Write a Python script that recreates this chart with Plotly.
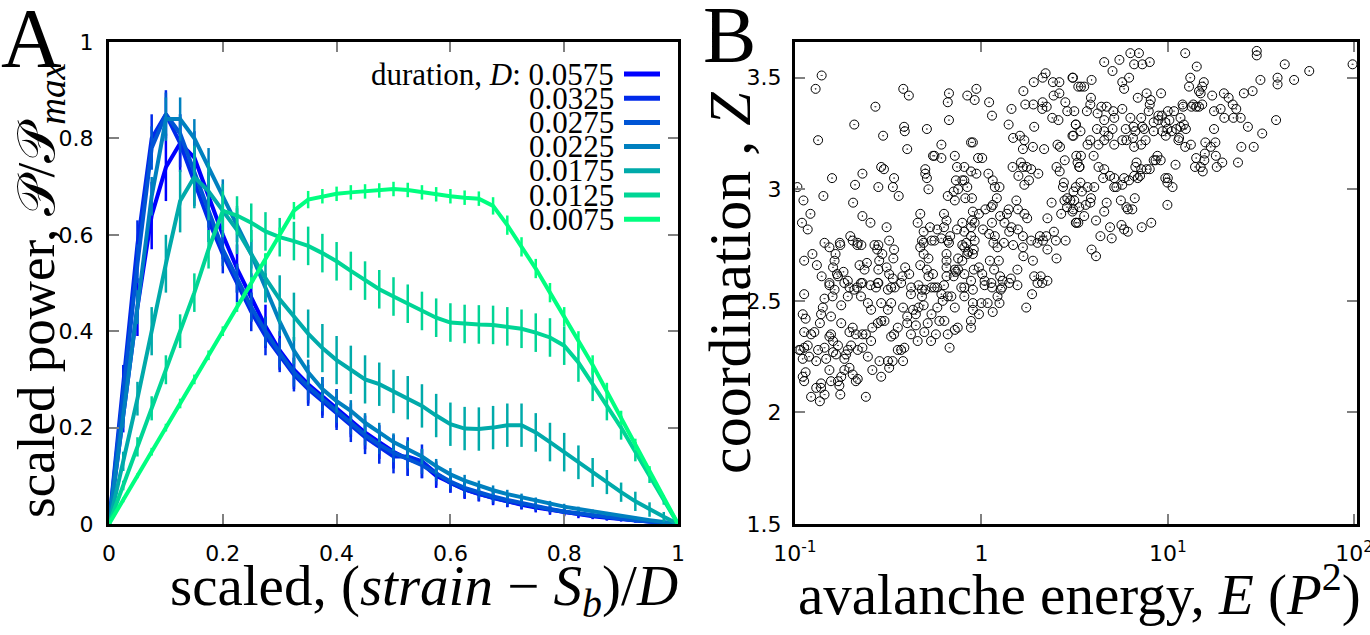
import plotly.graph_objects as go

# ---------------- Panel A data ----------------
x_scaled = [0, 0.025, 0.05, 0.075, 0.1, 0.125, 0.15, 0.175, 0.2, 0.225, 0.25, 0.275, 0.3, 0.325,
            0.35, 0.375, 0.4, 0.425, 0.45, 0.475, 0.5, 0.525, 0.55, 0.575, 0.6, 0.625, 0.65,
            0.675, 0.7, 0.725, 0.75, 0.775, 0.8, 0.825, 0.85, 0.875, 0.9, 0.925, 0.95, 0.975, 1]

durations = ["0.0575", "0.0325", "0.0275", "0.0225", "0.0175", "0.0125", "0.0075"]
colors = ["rgb(0,0,255)", "rgb(0,42,234)", "rgb(0,85,213)", "rgb(0,128,191)",
          "rgb(0,170,170)", "rgb(0,213,149)", "rgb(0,255,128)"]

p_0575 = [0, 0.22, 0.45, 0.64, 0.74, 0.79, 0.76, 0.68, 0.6, 0.53, 0.47, 0.41, 0.36, 0.32, 0.29, 0.265,
          0.24, 0.215, 0.19, 0.17, 0.15, 0.135, 0.125, 0.1, 0.085, 0.072, 0.062, 0.054, 0.047, 0.04,
          0.034, 0.029, 0.024, 0.02, 0.016, 0.013, 0.01, 0.007, 0.005, 0.002, 0]
p_0325 = [0, 0.3, 0.58, 0.8, 0.85, 0.79, 0.71, 0.63, 0.56, 0.5, 0.44, 0.39, 0.35, 0.31, 0.28, 0.255,
          0.23, 0.205, 0.18, 0.16, 0.14, 0.14, 0.13, 0.105, 0.085, 0.072, 0.062, 0.054, 0.047, 0.041,
          0.035, 0.03, 0.025, 0.021, 0.017, 0.013, 0.01, 0.007, 0.005, 0.002, 0]
p_0275 = [0, 0.27, 0.54, 0.78, 0.85, 0.81, 0.73, 0.65, 0.57, 0.51, 0.45, 0.4, 0.355, 0.315, 0.285,
          0.26, 0.235, 0.21, 0.185, 0.165, 0.148, 0.135, 0.122, 0.105, 0.088, 0.075, 0.065, 0.057,
          0.05, 0.043, 0.037, 0.031, 0.026, 0.022, 0.018, 0.014, 0.011, 0.008, 0.005, 0.003, 0]
p_0225 = [0, 0.22, 0.45, 0.68, 0.84, 0.84, 0.8, 0.74, 0.68, 0.62, 0.56, 0.49, 0.42, 0.36, 0.315,
          0.28, 0.255, 0.235, 0.21, 0.19, 0.17, 0.155, 0.14, 0.12, 0.103, 0.09, 0.079, 0.07, 0.062,
          0.055, 0.048, 0.042, 0.036, 0.031, 0.026, 0.021, 0.016, 0.012, 0.008, 0.004, 0]
p_0175 = [0, 0.13, 0.26, 0.4, 0.54, 0.67, 0.72, 0.69, 0.65, 0.61, 0.56, 0.51, 0.466, 0.43, 0.395,
          0.365, 0.34, 0.32, 0.3, 0.29, 0.275, 0.262, 0.245, 0.225, 0.207, 0.198, 0.197, 0.2, 0.205,
          0.205, 0.19, 0.17, 0.149, 0.128, 0.107, 0.087, 0.066, 0.047, 0.03, 0.015, 0]
p_0125 = [0, 0.08, 0.16, 0.24, 0.32, 0.4, 0.48, 0.57, 0.65, 0.64, 0.625, 0.607, 0.595, 0.587, 0.577,
          0.562, 0.545, 0.525, 0.505, 0.487, 0.472, 0.457, 0.442, 0.428, 0.418, 0.415, 0.414, 0.413,
          0.41, 0.405, 0.397, 0.387, 0.37, 0.335, 0.29, 0.245, 0.2, 0.15, 0.1, 0.05, 0]
p_0075 = [0, 0.05, 0.1, 0.15, 0.2, 0.25, 0.3, 0.35, 0.4, 0.45, 0.5, 0.55, 0.6, 0.65, 0.673, 0.68,
          0.685, 0.688, 0.69, 0.692, 0.695, 0.693, 0.688, 0.684, 0.68, 0.677, 0.675, 0.66, 0.62,
          0.575, 0.53, 0.48, 0.43, 0.38, 0.33, 0.275, 0.22, 0.165, 0.11, 0.055, 0]

e_0575 = [0, 0.03, 0.06, 0.07, 0.07, 0.06, 0.055, 0.05, 0.05, 0.05, 0.05, 0.045, 0.04, 0.04, 0.04,
          0.04, 0.04, 0.035, 0.035, 0.035, 0.035, 0.035, 0.03, 0.025, 0.02, 0.02, 0.015, 0.015, 0.012,
          0.01, 0.01, 0.01, 0.008, 0.008, 0.006, 0.006, 0.005, 0.004, 0.003, 0.002, 0]
e_0325 = [0, 0.03, 0.05, 0.05, 0.05, 0.05, 0.05, 0.045, 0.04, 0.04, 0.04, 0.04, 0.035, 0.035, 0.035,
          0.035, 0.035, 0.035, 0.035, 0.035, 0.035, 0.04, 0.035, 0.025, 0.02, 0.018, 0.015, 0.013,
          0.012, 0.01, 0.009, 0.008, 0.007, 0.006, 0.005, 0.005, 0.004, 0.003, 0.002, 0.001, 0]
e_0275 = [0, 0.025, 0.04, 0.045, 0.045, 0.04, 0.04, 0.035, 0.035, 0.03, 0.03, 0.03, 0.03, 0.03, 0.028,
          0.026, 0.025, 0.024, 0.022, 0.02, 0.02, 0.02, 0.018, 0.016, 0.015, 0.013, 0.012, 0.011, 0.01,
          0.009, 0.008, 0.007, 0.006, 0.005, 0.005, 0.004, 0.003, 0.003, 0.002, 0.001, 0]
e_0225 = [0, 0.02, 0.035, 0.04, 0.045, 0.045, 0.04, 0.04, 0.035, 0.035, 0.03, 0.03, 0.03, 0.028,
          0.026, 0.025, 0.024, 0.022, 0.02, 0.02, 0.018, 0.018, 0.016, 0.015, 0.013, 0.012, 0.011,
          0.01, 0.009, 0.008, 0.007, 0.006, 0.006, 0.005, 0.004, 0.004, 0.003, 0.003, 0.002, 0.001, 0]
e_0175 = [0, 0.02, 0.035, 0.05, 0.06, 0.065, 0.065, 0.06, 0.055, 0.05, 0.05, 0.05, 0.05, 0.05, 0.05,
          0.05, 0.05, 0.05, 0.05, 0.045, 0.045, 0.045, 0.045, 0.045, 0.045, 0.045, 0.045, 0.045, 0.045,
          0.045, 0.04, 0.04, 0.04, 0.035, 0.03, 0.025, 0.02, 0.02, 0.015, 0.01, 0]
e_0125 = [0, 0.01, 0.02, 0.025, 0.03, 0.035, 0.04, 0.04, 0.04, 0.04, 0.04, 0.04, 0.04, 0.04, 0.04,
          0.04, 0.04, 0.04, 0.04, 0.04, 0.04, 0.04, 0.04, 0.04, 0.04, 0.04, 0.04, 0.04, 0.04, 0.04,
          0.04, 0.04, 0.04, 0.04, 0.035, 0.03, 0.025, 0.02, 0.015, 0.01, 0]
e_0075 = [0, 0.005, 0.005, 0.008, 0.008, 0.01, 0.01, 0.01, 0.01, 0.01, 0.012, 0.012, 0.015, 0.018,
          0.018, 0.015, 0.015, 0.015, 0.015, 0.015, 0.015, 0.015, 0.015, 0.015, 0.015, 0.015, 0.015,
          0.018, 0.02, 0.02, 0.02, 0.02, 0.02, 0.02, 0.02, 0.018, 0.015, 0.012, 0.01, 0.005, 0]

power_series = [p_0575, p_0325, p_0275, p_0225, p_0175, p_0125, p_0075]
error_series = [e_0575, e_0325, e_0275, e_0225, e_0175, e_0125, e_0075]

# ---------------- Panel B data ----------------
E_low = [0.139,0.129,0.381,0.408,0.27,0.208,0.133,0.385,0.388,0.51,
         0.297,0.40,0.55,0.61,0.67,0.66,0.67,0.84,0.92,0.94,
         1.10,1.14,1.45,1.68,1.91,2.21,2.13,2.42,2.62,2.62,
         2.44,2.82,2.89,2.59,2.40,1.72,1.90,2.13,2.24,2.12,
         1.92,1.40,1.48,1.61,1.70,1.67,1.89,2.17,2.56,2.64,
         3.10,3.31,3.21,3.12,3.23,3.36,2.80,2.53,2.63,2.77,
         2.74,3.21,2.89,2.79,3.00,2.38,2.68,2.88,3.23,2.26,
         2.02,1.80,1.75,1.67,1.58,1.47,1.63,1.85,1.70,1.54,
         1.57,1.70,1.76,1.37,1.40,1.33,1.41,1.45,1.57,1.67,
         1.48,1.32,1.18,1.16,1.22,1.10,1.02,1.14,1.26,1.13,
         1.15,1.21,1.05,0.97,0.89,0.92,0.88,0.81,0.83,0.92,
         0.90,0.85,0.79,0.75,0.81,0.91,0.97,1.01,1.11,1.24,
         1.17,1.26,1.30,1.44,1.56,1.68,1.67,1.85,2.06,2.14,
         2.23,2.45,2.51,2.83,2.00,2.26,1.89,2.08,1.92,2.26,
         2.53,0.88,1.04,1.14,1.29,0.78,0.73,0.72,0.65,0.65,
         0.65,0.61,0.63,0.68,0.66,0.67,0.56,0.54,0.49,0.47,
         0.49,0.52,0.47,0.51,0.52,0.50,0.54,0.58,0.55,0.63,
         0.65,0.71,0.79,0.75,0.81,0.88,0.91,0.84,0.74,0.79,
         0.90,0.89,0.82,0.84,0.75,0.71,0.66,0.72,0.79,0.81,
         0.88,0.74,0.73,0.81,0.94,1.09,1.15,1.18,1.25,0.88,
         0.90,0.96,1.01,0.72,0.51,0.50,0.50,0.52,0.61,0.56,
         0.47,0.455,0.49,0.48,0.53,0.58,0.63,0.65,0.28,0.29,
         0.335,0.34,0.36,0.30,0.23,0.21,0.205,0.23,0.254,0.31,
         0.158,0.142,0.111,0.103,0.121,0.109,0.117,0.112,0.124,0.144,
         0.153,0.131,0.139,0.160,0.174,0.175,0.198,0.217,0.216,0.227,
         0.204,0.165,0.163,0.168,0.170,0.153,0.182,0.192,0.196,0.222,
         0.236,0.243,0.283,0.28,0.31,0.32,0.28,0.267,0.276,0.294,
         0.34,0.337,0.32,0.335,0.28,0.315,0.343,0.377,0.41,0.39,
         0.42,0.46,0.272,0.254,0.215,0.163,0.23]
Z_low = [3.51,3.45,3.45,3.42,3.37,3.29,3.22,3.28,3.26,3.27,
         3.24,3.18,3.15,3.20,3.43,3.39,3.31,3.42,3.40,3.45,
         3.39,3.33,3.36,3.44,3.48,3.52,3.50,3.48,3.48,3.43,
         3.42,3.39,3.35,3.31,3.32,3.38,3.38,3.39,3.37,3.36,
         3.28,3.29,3.23,3.24,3.22,3.18,3.19,3.18,3.20,3.19,
         3.50,3.46,3.29,3.24,3.15,3.10,3.13,3.10,3.08,3.03,
         3.01,3.01,2.96,2.95,2.95,2.94,2.89,2.92,2.85,2.87,
         3.07,3.04,3.10,3.10,3.06,3.10,3.12,3.09,3.02,2.95,
         2.91,2.89,2.87,2.89,2.91,2.85,2.81,2.83,2.82,2.79,
         2.75,2.76,2.79,2.76,2.74,2.80,2.82,2.85,2.88,2.92,
         2.93,2.96,2.91,2.89,2.86,2.85,2.83,2.81,2.76,2.77,
         2.71,2.72,2.68,2.64,2.62,2.64,2.65,2.62,2.68,2.68,
         2.64,2.61,2.59,2.60,2.64,2.70,2.74,2.77,2.79,2.77,
         2.79,2.81,2.77,2.77,2.76,2.73,2.68,2.61,2.61,2.59,
         2.69,2.59,2.59,2.56,2.56,2.56,2.63,2.64,2.65,2.68,
         2.71,2.78,2.83,2.79,2.77,2.76,2.77,2.77,2.76,2.74,
         2.71,2.69,2.66,2.64,2.61,2.55,2.56,2.56,2.62,2.57,
         2.61,2.61,2.75,2.69,2.74,2.79,2.73,2.71,2.82,2.85,
         2.90,2.96,2.96,3.01,3.00,2.99,2.97,2.95,3.04,3.10,
         3.08,3.10,3.04,3.04,3.07,3.07,3.04,3.01,3.01,3.21,
         3.21,3.14,3.14,3.15,3.05,3.09,3.07,3.00,3.14,3.15,
         2.89,2.85,2.81,2.77,2.83,2.82,2.89,2.86,3.01,3.10,
         3.01,3.05,2.97,3.09,3.07,3.02,2.94,2.88,2.85,2.83,
         3.05,2.97,2.95,3.01,2.89,2.85,2.82,2.68,2.71,2.76,
         2.74,2.66,2.61,2.65,2.76,2.75,2.79,2.76,2.75,2.75,
         2.77,2.71,2.68,2.62,2.61,2.58,2.63,2.59,2.56,2.66,
         2.64,2.67,2.68,2.64,2.65,2.77,2.75,2.75,2.73,2.71,
         2.73,2.69,2.62,2.60,2.58,2.55,2.56,2.61,2.62,2.65,
         2.56,2.57,2.56,2.57,2.56,2.55,2.58]

E_bottom = [0.112,0.153,0.184,0.226,0.278,0.328,0.371,0.419,0.48,0.48,
            0.56,0.61,0.69,0.81,0.90,1.04,1.13,1.27,1.41,1.56,
            1.87,2.00,2.12,1.22,1.25,1.08,1.00,0.90,0.90,0.97,
            1.15,1.74,0.81,0.72,0.66,0.62,0.58,0.54,0.49,0.46,
            0.445,0.43,0.40,0.38,0.328,0.315,0.29,0.256,0.246,0.226,
            0.208,0.192,0.177,0.159,0.144,0.141,0.138,0.156,0.136,0.127,
            0.122,0.112,0.110,0.114,0.107,0.112,0.110,0.119,0.130,0.133,
            0.144,0.147,0.153,0.156,0.160,0.170,0.177,0.184,0.192,0.196,
            0.204,0.212,0.23,0.24,0.256,0.26,0.278,0.29,0.302,0.328,
            0.34,0.356,0.386,0.40,0.419,0.445,0.455,0.494,0.515,0.537,
            0.57,0.595,0.633,0.66,0.675,0.72,0.746,0.879,0.879,0.217,
            0.23,0.246,0.26,0.284,0.29,0.315,0.334,0.356,0.38,0.371,
            0.32,0.196,0.204,0.212,0.217,0.184,0.177,0.173,0.175,0.170,
            0.153,0.156,0.138,0.130,0.138,0.122,0.136,0.144,0.114,0.112,
            0.110,0.24,0.105,0.117,0.160,0.166,0.188,0.200]
Z_bottom = [2.53,2.57,2.58,2.58,2.58,2.56,2.58,2.53,2.55,2.52,
            2.56,2.53,2.52,2.56,2.55,2.57,2.58,2.55,2.58,2.57,
            2.53,2.58,2.58,2.52,2.49,2.49,2.49,2.49,2.46,2.44,
            2.45,2.47,2.52,2.47,2.52,2.50,2.47,2.44,2.48,2.47,
            2.44,2.46,2.43,2.47,2.49,2.46,2.49,2.46,2.49,2.52,
            2.55,2.52,2.48,2.52,2.51,2.47,2.44,2.43,2.40,2.36,
            2.35,2.36,2.44,2.42,2.28,2.29,2.24,2.25,2.23,2.28,
            2.29,2.24,2.34,2.35,2.32,2.30,2.40,2.24,2.28,2.36,
            2.38,2.35,2.35,2.35,2.32,2.38,2.40,2.41,2.41,2.34,
            2.35,2.38,2.29,2.40,2.35,2.39,2.32,2.36,2.40,2.32,
            2.35,2.41,2.41,2.35,2.29,2.37,2.38,2.41,2.38,2.28,
            2.29,2.25,2.19,2.23,2.16,2.23,2.23,2.28,2.23,2.28,
            2.20,2.20,2.17,2.14,2.15,2.19,2.16,2.12,2.08,2.14,
            2.19,2.14,2.13,2.11,2.11,2.07,2.05,2.08,2.18,2.14,
            2.16,2.07,2.28,2.30,2.27,2.26,2.26,2.30]

E_high = [4.56,5.5,6.3,7.0,6.6,7.3,8.0,5.05,6.2,5.7,
          5.83,3.9,3.08,3.42,3.56,12.4,14.3,30,30,42.4,
          57.4,38.8,38.8,47.6,31.4,25.6,28.5,20.0,21.2,22.3,
          23.3,24.6,22.5,20.1,19.2,17.7,17.3,15.6,15.3,15.0,
          14.7,13.2,13.0,13.4,13.7,14.2,14.7,15.3,12.0,12.1,
          11.7,10.8,10.0,10.2,9.2,7.7,6.9,8.1,8.0,8.9,
          8.9,8.4,9.3,9.7,7.9,7.2,6.3,5.7,5.1,4.7,
          4.4,4.2,4.56,5.16,3.84,3.87,3.68,3.15,3.21,3.08,
          3.40,4.17,4.56,5.05,5.95,6.55,7.3,7.46,6.7,6.5,
          6.0,4.8,4.56,4.25,3.84,3.71,5.16,5.7,6.6,7.2,
          7.6,8.4,9.35,9.75,9.95,10.5,11.1,11.7,12.2,12.5,
          11.5,11.4,12.4,13.3,14.2,14.0,15.0,15.4,15.7,15.8,
          15.9,17.0,18.0,17.7,18.1,18.3,19.6,23.8,24.8,28.9,
          32.1,38.1,26.9,11.0,10.0,9.95,10.6,9.7,9.16,8.8,
          8.6,8.4,8.0,7.7,7.2,6.8,6.7,7.1,6.9,6.6,
          6.2,5.83,5.7,5.3,5.16,4.9,4.5,4.56,4.25,4.0,
          3.42,3.35,3.28,3.40,3.71,4.03,3.46,3.12,3.87,3.15,
          3.11,3.35,3.56,3.21,3.63,3.84,4.12,4.7,4.56,5.16,
          5.6,6.0,6.1,6.45,6.65,5.64,5.83,6.1,4.9,5.0,
          4.35,7.25,8.15,3.9,4.12,9.95,98,3.31,3.08]
Z_high = [3.57,3.58,3.61,3.61,3.56,3.56,3.57,3.53,3.50,3.48,
          3.45,3.49,3.50,3.46,3.46,3.61,3.55,3.62,3.60,3.56,
          3.53,3.50,3.47,3.49,3.49,3.43,3.44,3.43,3.41,3.38,
          3.36,3.32,3.32,3.32,3.36,3.35,3.42,3.48,3.46,3.43,
          3.44,3.50,3.46,3.37,3.38,3.37,3.37,3.38,3.38,3.37,
          3.32,3.35,3.35,3.31,3.43,3.43,3.41,3.40,3.38,3.33,
          3.31,3.30,3.33,3.30,3.35,3.32,3.32,3.36,3.35,3.37,
          3.37,3.34,3.31,3.32,3.38,3.41,3.35,3.35,3.29,3.24,
          3.26,3.27,3.26,3.27,3.27,3.28,3.28,3.27,3.26,3.23,
          3.22,3.24,3.22,3.20,3.22,3.20,3.20,3.22,3.19,3.20,
          3.22,3.26,3.26,3.24,3.27,3.26,3.27,3.28,3.29,3.27,
          3.23,3.22,3.19,3.20,3.14,3.10,3.10,3.08,3.13,3.16,
          3.21,3.19,3.21,3.27,3.15,3.10,3.12,3.12,3.19,3.19,
          3.25,3.31,3.28,3.11,3.05,3.03,3.01,3.05,3.13,3.15,
          3.13,3.13,3.09,3.09,3.09,3.12,3.10,3.06,3.05,3.06,
          3.04,3.05,3.02,3.01,3.05,3.06,3.05,3.09,3.10,3.15,
          3.15,3.10,3.12,3.03,3.01,3.01,2.99,2.99,2.96,2.95,
          2.91,2.92,2.88,2.85,2.93,2.94,2.86,2.94,2.90,3.01,
          2.95,2.92,2.91,2.91,2.96,2.84,2.82,2.81,2.83,2.78,
          2.79,2.83,2.85,2.73,2.70,2.93,3.56,2.85,2.90]

energy = E_low + E_bottom + E_high
coordination = Z_low + Z_bottom + Z_high

x_ticks_a = [0, 0.2, 0.4, 0.6, 0.8, 1]
x_ticklabels_a = ["0", "0.2", "0.4", "0.6", "0.8", "1"]
y_ticks_a = [0, 0.2, 0.4, 0.6, 0.8, 1]
y_ticklabels_a = ["0", "0.2", "0.4", "0.6", "0.8", "1"]
x_ticks_b = [0.1, 1, 10, 100]
x_ticklabels_b = ["10<sup>-1</sup>", "1", "10<sup>1</sup>", "10<sup>2</sup>"]
y_ticks_b = [1.5, 2, 2.5, 3, 3.5]
y_ticklabels_b = ["1.5", "2", "2.5", "3", "3.5"]

# ---------------- Figure ----------------
fig = go.Figure()
for vals, errs, col in zip(power_series, error_series, colors):
    fig.add_trace(go.Scatter(
        x=x_scaled, y=vals, mode="lines",
        line=dict(color=col, width=4),
        error_y=dict(type="data", array=errs, color=col, thickness=2.5, width=0),
        cliponaxis=False, showlegend=False, xaxis="x", yaxis="y"))

fig.add_trace(go.Scatter(
    x=energy, y=coordination, mode="markers",
    marker=dict(symbol="circle-open-dot", size=9, color="black", line=dict(width=1)),
    showlegend=False, xaxis="x2", yaxis="y2"))

tickfont = dict(family="DejaVu Sans", size=22, color="black")
common = dict(showline=True, linecolor="black", linewidth=3, mirror="ticks",
              ticks="inside", ticklen=10, tickwidth=1.5, tickcolor="#808080",
              showgrid=False, zeroline=False, tickfont=tickfont, automargin=False,
              ticklabeloverflow="allow")

serif = "Liberation Serif"
W, H = 1370, 635
top, bottom = 42, 111
plot_h = H - top - bottom


def px(xp):
    return xp / W


def py(yp):
    return (H - bottom - yp) / plot_h


fig.update_layout(
    width=W, height=H,
    margin=dict(l=0, r=0, t=top, b=bottom, autoexpand=False),
    paper_bgcolor="white", plot_bgcolor="white",
    xaxis=dict(domain=[px(109), px(678)], range=[0, 1], tickvals=x_ticks_a,
               ticktext=x_ticklabels_a, anchor="y", ticklabelstandoff=8, **common),
    yaxis=dict(domain=[0, 1], range=[0, 1], tickvals=y_ticks_a,
               ticktext=y_ticklabels_a, anchor="x", ticklabelstandoff=8, **common),
    xaxis2=dict(domain=[px(795), px(1357)], type="log", range=[-1, 2.015], tickvals=x_ticks_b,
                ticktext=x_ticklabels_b, anchor="y2", ticklabelstandoff=8, **common),
    yaxis2=dict(domain=[0, 1], range=[1.5, 3.66], tickvals=y_ticks_b,
                ticktext=y_ticklabels_b, anchor="x2", ticklabelstandoff=6, **common),
)

annotations = [
    dict(text="A", x=px(32), y=py(38), font=dict(family=serif, size=84, color="black")),
    dict(text="B", x=px(729), y=py(35), font=dict(family=serif, size=80, color="black")),
    dict(text="scaled, (<i>strain</i> − <i>S<sub>b</sub></i>)/<i>D</i>", x=px(424), y=py(590),
         font=dict(family=serif, size=57, color="black")),
    dict(text="avalanche energy, <i>E</i> (<i>P</i><sup>2</sup>)", x=px(1079), y=py(590),
         font=dict(family=serif, size=57, color="black")),
    dict(text="scaled power, 𝒫/𝒫<sub><i>max</i></sub>", x=px(40), y=py(290), textangle=-90,
         font=dict(family=serif, size=53, color="black")),
    dict(text="coordination , <i>Z</i>", x=px(730), y=py(283), textangle=-90,
         font=dict(family=serif, size=60, color="black")),
]
for a in annotations:
    a.update(xref="paper", yref="paper", showarrow=False, xanchor="center", yanchor="middle")

shapes = []
for i, (lab, col) in enumerate(zip(durations, colors)):
    yc = 74 + 24.2 * i
    text = ("duration, <i>D</i>: " + lab) if i == 0 else lab
    annotations.append(dict(text=text, x=px(616), y=py(yc), xref="paper", yref="paper",
                            showarrow=False, xanchor="right", yanchor="middle",
                            font=dict(family=serif, size=31, color="black")))
    shapes.append(dict(type="line", xref="paper", yref="paper", x0=px(624), x1=px(660),
                       y0=py(yc), y1=py(yc), line=dict(color=col, width=5)))

fig.update_layout(annotations=annotations, shapes=shapes)
fig.write_html("out.html", config={"displayModeBar": False},
               post_script="document.body.style.margin='0';")
